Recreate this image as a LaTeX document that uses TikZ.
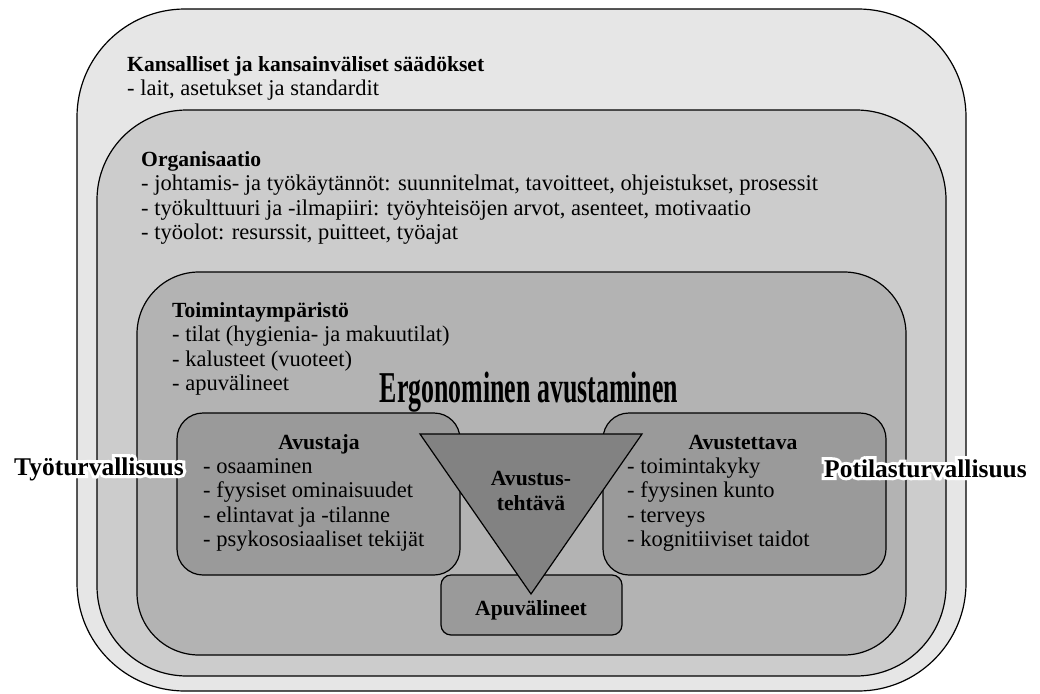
\documentclass[tikz,border=0pt]{standalone}
\usepackage{fontspec}
\setmainfont{Liberation Serif}
\newfontface\halofont[FakeBold=24]{Liberation Serif Bold}
\definecolor{lay1}{HTML}{E6E6E6}
\definecolor{lay2}{HTML}{CCCCCC}
\definecolor{lay3}{HTML}{B3B3B3}
\definecolor{boxc}{HTML}{9A9A9A}
\definecolor{trig}{HTML}{828282}
\newcommand\halotext[1]{\rlap{\halofont\color{white}#1}#1}
\newcommand\hb[1]{{\fontsize{21.6}{24.5}\selectfont\bfseries #1}}
\tikzset{
  layer/.style={draw=black, line width=1.2pt},
  txt/.style={inner sep=0pt, anchor=base west, align=left, font=\fontsize{22.5}{24.5}\selectfont},
  hd/.style={inner sep=0pt, anchor=base, align=center, font=\fontsize{21.6}{25}\selectfont\bfseries},
  safety/.style={inner sep=0pt, anchor=base west, font=\fontsize{25.5}{28}\selectfont\bfseries},
}
\begin{document}
\begin{tikzpicture}[x=1pt,y=-1pt]
\useasboundingbox (0,0) rectangle (1040,693);
% layers
\draw[layer, fill=lay1, rounded corners=108pt] (77,9) rectangle (966,691);
\draw[layer, fill=lay2, rounded corners=90pt] (97,110) rectangle (946,676);
\draw[layer, fill=lay3, rounded corners=62pt] (137,272) rectangle (906,655);
% boxes
\draw[layer, fill=boxc, rounded corners=26pt] (177,413) rectangle (460,575);
\draw[layer, fill=boxc, rounded corners=26pt] (603,413) rectangle (886,575);
\draw[layer, fill=boxc, rounded corners=10pt] (441,575) rectangle (622,635);
% triangle
\coordinate (tl) at (420,434);
\coordinate (tr) at (642,434);
\coordinate (tb) at (531,594);
\draw[layer, fill=trig, line join=miter] (tl) -- (tr) -- (tb) -- cycle;
% texts (base anchor = baseline of last line)
\node[txt] (kans) at (127,95.5) {\hb{Kansalliset ja kansainväliset säädökset}\\- lait, asetukset ja standardit};
\node[txt] (org) at (141,239.5) {\hb{Organisaatio}\\- johtamis- ja työkäytännöt: suunnitelmat, tavoitteet, ohjeistukset, prosessit\\- työkulttuuri ja -ilmapiiri: työyhteisöjen arvot, asenteet, motivaatio\\- työolot: resurssit, puitteet, työajat};
\node[txt] (toim) at (172,390.5) {\hb{Toimintaympäristö}\\- tilat (hygienia- ja makuutilat)\\- kalusteet (vuoteet)\\- apuvälineet};
\node[hd] (avh) at (319,449) {Avustaja};
\node[txt] (avl) at (203,546.5) {- osaaminen\\- fyysiset ominaisuudet\\- elintavat ja -tilanne\\- psykososiaaliset tekijät};
\node[hd] (aveh) at (743,449) {Avustettava};
\node[txt] (avel) at (627,546.5) {- toimintakyky\\- fyysinen kunto\\- terveys\\- kognitiiviset taidot};
\node[hd] (teht) at (531,510) {Avustus-\\tehtävä};
\node[hd] (apu) at (531,615) {Apuvälineet};
\node[inner sep=0pt, anchor=base] (ergo) at (529,402) {\scalebox{0.588}[1]{\fontsize{44}{44}\selectfont\bfseries Ergonominen avustaminen}};
\node[safety] (tyo) at (14,475) {\halotext{Työturvallisuus}};
\node[safety] (pot) at (824,477) {\halotext{Potilasturvallisuus}};
\end{tikzpicture}
\end{document}
